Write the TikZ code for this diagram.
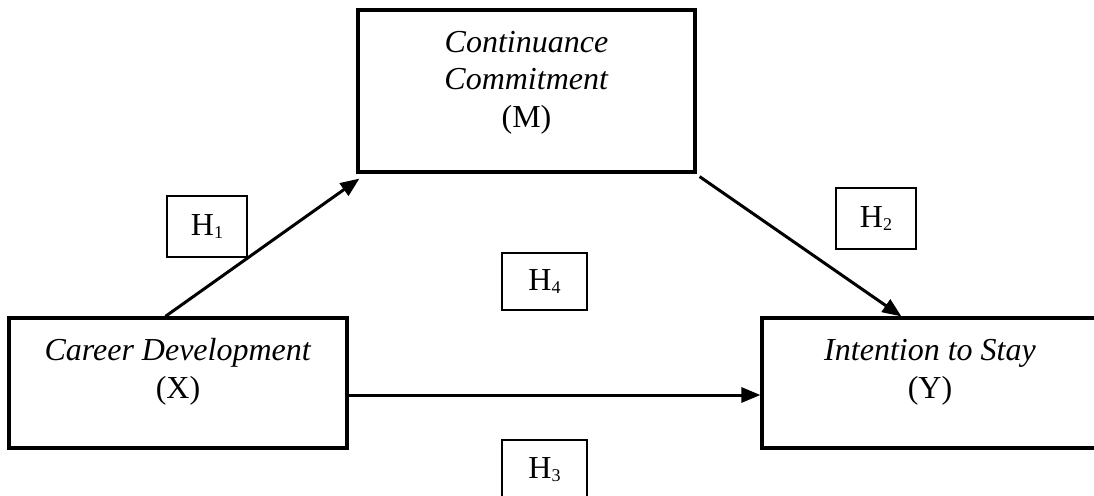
\documentclass[tikz,border=0pt]{standalone}
\usepackage{fontspec}
\setmainfont{Liberation Serif}
\usetikzlibrary{arrows.meta}
\newcommand{\hyp}[1]{H\raisebox{-3pt}{\fontsize{18}{18}\selectfont #1}}
\begin{document}
\begin{tikzpicture}[x=1pt,y=-1pt,
  bigbox/.style={draw, line width=3.2pt, inner sep=0pt},
  hbox/.style={draw, line width=2pt, inner sep=0pt, font=\fontsize{32}{37}\selectfont},
  txt/.style={align=center, inner sep=0pt, font=\fontsize{32}{37.5}\selectfont},
  arr/.style={line width=3pt, -{Triangle[length=19pt,width=15pt]}}]
\useasboundingbox (0,0) rectangle (1094,495);
% main boxes
\node[bigbox, minimum width=337pt, minimum height=162pt] (M) at (526.5,91) {};
\node[bigbox, minimum width=338pt, minimum height=130pt] (X) at (178,383) {};
\node[bigbox, minimum width=342pt, minimum height=130pt] (Y) at (933,383) {};
% texts
\node[txt, anchor=base] (Mt) at (526.5,127) {\textit{Continuance}\\\textit{Commitment}\\(M)};
\node[txt, anchor=base] (Xt) at (178,398) {\textit{Career Development}\\(X)};
\node[txt, anchor=base] (Yt) at (930,398) {\textit{Intention to Stay}\\(Y)};
% hypothesis boxes
\node[hbox, minimum width=80pt, minimum height=61pt] (H1) at (207,226.5) {\hyp{1}};
\node[hbox, minimum width=80pt, minimum height=61pt] (H2) at (876,218.5) {\hyp{2}};
\node[hbox, minimum width=85pt, minimum height=57pt] (H4) at (544.5,281.5) {\hyp{4}};
\node[hbox, minimum width=85pt, minimum height=60pt] (H3) at (544.5,470) {\hyp{3}};
% connectors
\draw[arr] ([xshift=158pt]X.north west) -- ([xshift=3pt,yshift=-5pt]M.south west);
\draw[arr] ([xshift=3pt,yshift=-3pt]M.south east) -- ([xshift=141pt]Y.north west);
\draw[arr] ([yshift=-12pt]X.east) -- ([yshift=-12pt]Y.west);
\end{tikzpicture}
\end{document}
